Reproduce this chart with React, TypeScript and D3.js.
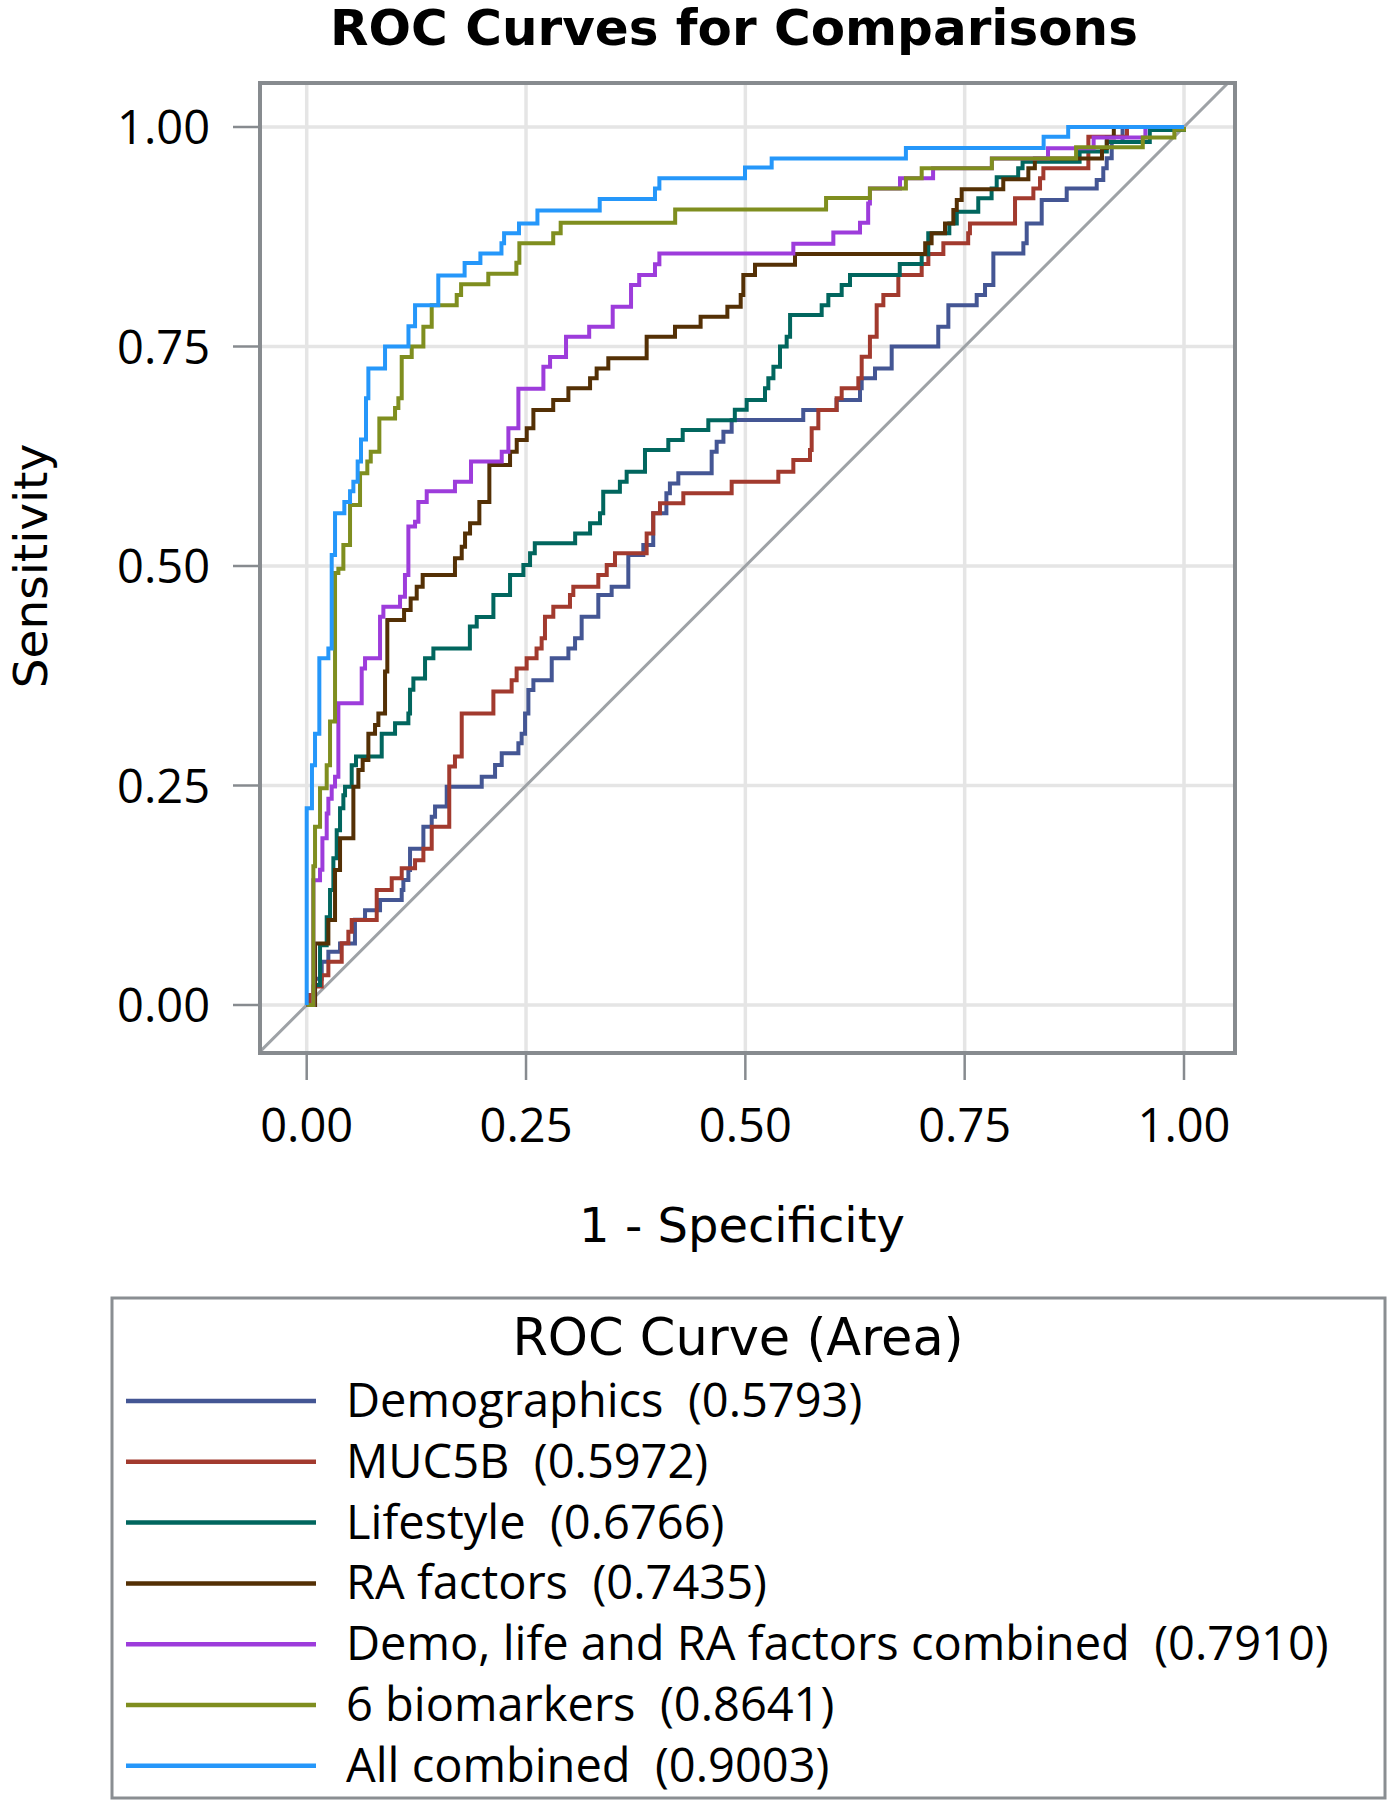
import React, { useEffect } from "react";
import * as d3 from "d3";

type Pt = [number, number];

const seriesNames = [
  "Demographics",
  "MUC5B",
  "Lifestyle",
  "RA factors",
  "Demo, life and RA factors combined",
  "6 biomarkers",
  "All combined",
];
const seriesAreas = ["0.5793", "0.5972", "0.6766", "0.7435", "0.7910", "0.8641", "0.9003"];
const axisTicks = [0, 0.25, 0.5, 0.75, 1];

// ROC step-curve corners: [1 - specificity, sensitivity]
const demographics: Pt[] = [
  [0, 0], [0.0095, 0.03], [0.0171, 0.0494], [0.0247, 0.0607], [0.038, 0.07], [0.055, 0.097],
  [0.0665, 0.108], [0.0836, 0.1196], [0.1083, 0.131], [0.1102, 0.1424], [0.1159, 0.1538],
  [0.1178, 0.178], [0.133, 0.203], [0.1425, 0.2145], [0.1463, 0.226], [0.1596, 0.2487],
  [0.1995, 0.26], [0.2147, 0.2733], [0.2223, 0.2866], [0.2413, 0.298], [0.245, 0.309],
  [0.2489, 0.332], [0.2527, 0.3588], [0.2584, 0.37], [0.2793, 0.3948], [0.2983, 0.406],
  [0.3059, 0.4176], [0.3134, 0.4423], [0.3324, 0.467], [0.3476, 0.4765], [0.3666, 0.5125],
  [0.3837, 0.524], [0.395, 0.56], [0.41, 0.5828], [0.414, 0.594], [0.4236, 0.6055],
  [0.4616, 0.63], [0.4673, 0.6416], [0.475, 0.653], [0.4844, 0.6663], [0.566, 0.6777],
  [0.604, 0.689], [0.6307, 0.7024], [0.6326, 0.7137], [0.6478, 0.725], [0.6668, 0.75],
  [0.7199, 0.7726], [0.7314, 0.797], [0.7637, 0.8087], [0.7732, 0.82], [0.7827, 0.856],
  [0.8169, 0.8675], [0.8207, 0.89], [0.8378, 0.9169], [0.8663, 0.93], [0.9005, 0.9397],
  [0.908, 0.953], [0.9119, 0.9643], [0.9176, 0.983], [0.93, 1], [1, 1],
];
const muc5b: Pt[] = [
  [0, 0], [0.0038, 0.0114], [0.0076, 0.021], [0.0171, 0.034], [0.0247, 0.0494],
  [0.0399, 0.0702], [0.0475, 0.0835], [0.0513, 0.0968], [0.0798, 0.131], [0.0969, 0.1443],
  [0.1083, 0.1557], [0.1235, 0.165], [0.133, 0.178], [0.1425, 0.203], [0.1625, 0.2715],
  [0.169, 0.283], [0.1767, 0.332], [0.2128, 0.357], [0.2336, 0.37], [0.2393, 0.3834],
  [0.2507, 0.395], [0.262, 0.406], [0.2678, 0.4176], [0.2716, 0.4423], [0.2811, 0.4537],
  [0.3001, 0.467], [0.3039, 0.4765], [0.3324, 0.4897], [0.342, 0.501], [0.3514, 0.5144],
  [0.3875, 0.537], [0.395, 0.56], [0.4027, 0.5714], [0.4293, 0.5828], [0.4844, 0.596],
  [0.5376, 0.6074], [0.5547, 0.6207], [0.5737, 0.632], [0.5756, 0.6568], [0.5832, 0.6777],
  [0.604, 0.691], [0.6098, 0.7024], [0.6288, 0.7137], [0.6326, 0.7384], [0.642, 0.761],
  [0.6497, 0.797], [0.6573, 0.8087], [0.6744, 0.8314], [0.701, 0.844], [0.7086, 0.8554],
  [0.7257, 0.8675], [0.754, 0.879], [0.756, 0.89], [0.8074, 0.9188], [0.8283, 0.93],
  [0.8359, 0.9415], [0.8397, 0.953], [0.891, 0.989], [0.935, 1], [1, 1],
];
const lifestyle: Pt[] = [
  [0, 0], [0.0095, 0.0228], [0.0152, 0.068], [0.0228, 0.1], [0.0266, 0.131], [0.0304, 0.167],
  [0.0342, 0.199], [0.038, 0.224], [0.0418, 0.239], [0.0437, 0.2487], [0.0513, 0.273],
  [0.0562, 0.283], [0.0855, 0.309], [0.1007, 0.321], [0.1159, 0.332], [0.1178, 0.359],
  [0.1216, 0.372], [0.1349, 0.395], [0.1444, 0.406], [0.186, 0.431], [0.1938, 0.442],
  [0.2128, 0.467], [0.2318, 0.4897], [0.247, 0.501], [0.2546, 0.5144], [0.26, 0.526],
  [0.306, 0.537], [0.323, 0.5486], [0.3343, 0.56], [0.338, 0.5847], [0.357, 0.596],
  [0.3647, 0.6074], [0.3856, 0.632], [0.4122, 0.6435], [0.4286, 0.655], [0.4578, 0.666],
  [0.488, 0.678], [0.5015, 0.689], [0.5224, 0.7024], [0.5262, 0.7137], [0.532, 0.727],
  [0.5395, 0.75], [0.5471, 0.761], [0.551, 0.786], [0.587, 0.797], [0.5946, 0.8087],
  [0.6098, 0.82], [0.6193, 0.8314], [0.676, 0.844], [0.701, 0.855], [0.7085, 0.879],
  [0.7325, 0.89], [0.741, 0.9036], [0.7655, 0.9188], [0.7807, 0.93], [0.7865, 0.9427],
  [0.811, 0.953], [0.816, 0.9605], [0.881, 0.972], [0.912, 0.983], [0.961, 0.9966], [1, 1],
];
const raFactors: Pt[] = [
  [0, 0], [0.0095, 0.07], [0.0247, 0.0968], [0.0323, 0.1538], [0.038, 0.19], [0.0532, 0.2487],
  [0.0589, 0.2677], [0.0638, 0.279], [0.0703, 0.309], [0.0779, 0.319], [0.0817, 0.332],
  [0.0893, 0.3797], [0.0919, 0.4385], [0.111, 0.45], [0.1185, 0.463], [0.1254, 0.4765],
  [0.1322, 0.4897], [0.169, 0.5087], [0.1767, 0.522], [0.1805, 0.537], [0.1862, 0.5486],
  [0.1968, 0.573], [0.2082, 0.615], [0.2318, 0.63], [0.2394, 0.6435], [0.2508, 0.657],
  [0.2584, 0.6777], [0.281, 0.689], [0.2983, 0.7024], [0.323, 0.7137], [0.3305, 0.725],
  [0.3438, 0.7365], [0.3875, 0.761], [0.4198, 0.7726], [0.449, 0.784], [0.4795, 0.7954],
  [0.4947, 0.8087], [0.4977, 0.8314], [0.511, 0.843], [0.5566, 0.8554], [0.705, 0.8675],
  [0.7123, 0.879], [0.7276, 0.89], [0.7371, 0.9055], [0.741, 0.9169], [0.7466, 0.929],
  [0.794, 0.9404], [0.8226, 0.953], [0.83, 0.964], [0.9065, 0.976], [0.912, 0.988],
  [0.92, 1], [1, 1],
];
const demoLifeRA: Pt[] = [
  [0, 0], [0.0076, 0.142], [0.0152, 0.154], [0.0179, 0.19], [0.0228, 0.218], [0.0247, 0.235],
  [0.0285, 0.249], [0.0323, 0.26], [0.0361, 0.3436], [0.0627, 0.3834], [0.0665, 0.3948],
  [0.0836, 0.4423], [0.0874, 0.4537], [0.1064, 0.465], [0.112, 0.4897], [0.1159, 0.545],
  [0.1235, 0.5505], [0.1273, 0.573], [0.1368, 0.585], [0.169, 0.596], [0.1873, 0.619],
  [0.2223, 0.63], [0.2299, 0.657], [0.2413, 0.702], [0.2698, 0.727], [0.2774, 0.738],
  [0.2956, 0.761], [0.322, 0.7726], [0.3488, 0.7954], [0.3697, 0.82], [0.379, 0.8314],
  [0.397, 0.8436], [0.402, 0.856], [0.5547, 0.867], [0.6003, 0.8797], [0.6307, 0.891],
  [0.64, 0.913], [0.642, 0.93], [0.6763, 0.9415], [0.714, 0.953], [0.781, 0.964],
  [0.845, 0.9757], [0.897, 0.988], [0.956, 1], [1, 1],
];
const biomarkers6: Pt[] = [
  [0, 0], [0.0076, 0.158], [0.0095, 0.203], [0.0152, 0.247], [0.0228, 0.273], [0.0266, 0.323],
  [0.0323, 0.492], [0.0361, 0.497], [0.0418, 0.524], [0.0494, 0.5695], [0.0608, 0.6055],
  [0.0691, 0.619], [0.073, 0.63], [0.0828, 0.668], [0.1007, 0.68], [0.1045, 0.691],
  [0.1083, 0.738], [0.1197, 0.75], [0.133, 0.7726], [0.1425, 0.797], [0.171, 0.8087],
  [0.176, 0.8208], [0.207, 0.833], [0.239, 0.8455], [0.2424, 0.8675], [0.281, 0.879],
  [0.2895, 0.891], [0.42, 0.906], [0.592, 0.919], [0.642, 0.93], [0.683, 0.9415],
  [0.701, 0.953], [0.781, 0.964], [0.877, 0.9768], [0.953, 0.988], [0.989, 0.997], [1, 1],
];
const allCombined: Pt[] = [
  [0, 0], [0, 0.224], [0.006, 0.273], [0.0095, 0.309], [0.0144, 0.395], [0.0247, 0.406],
  [0.0285, 0.5125], [0.0323, 0.56], [0.0429, 0.573], [0.0494, 0.585], [0.0532, 0.596],
  [0.0581, 0.619], [0.0619, 0.644], [0.0676, 0.691], [0.0703, 0.725], [0.0893, 0.75],
  [0.116, 0.773], [0.1235, 0.797], [0.15, 0.831], [0.18, 0.845], [0.198, 0.856],
  [0.222, 0.8675], [0.225, 0.879], [0.242, 0.89], [0.263, 0.905], [0.334, 0.918],
  [0.397, 0.93], [0.402, 0.9416], [0.4996, 0.954], [0.53, 0.964], [0.683, 0.976],
  [0.84, 0.989], [0.868, 1], [1, 1],
];

const seriesData: Pt[][] = [demographics, muc5b, lifestyle, raFactors, demoLifeRA, biomarkers6, allCombined];
const seriesColors = ["#445694", "#A23A2E", "#01665E", "#543005", "#9D3CDB", "#7F8E1F", "#2597FA"];

const FONT = "'Open Sans', 'Noto Sans', sans-serif";
const WIDE_FONT = "'DejaVu Sans', 'Open Sans', sans-serif";

export default function App() {
  useEffect(() => {
    document.body.style.margin = "0";
  }, []);

  const W = 1387;
  const H = 1800;
  const frame = { x0: 260, x1: 1235, y0: 83, y1: 1053 };
  const x = d3.scaleLinear().domain([0, 1]).range([306.7, 1184]);
  const y = d3.scaleLinear().domain([0, 1]).range([1005, 127]);
  const line = d3
    .line<Pt>()
    .x((d) => x(d[0]))
    .y((d) => y(d[1]))
    .curve(d3.curveStepAfter);
  const diag = d3
    .line<Pt>()
    .x((d) => x(d[0]))
    .y((d) => y(d[1]));

  const fmt = d3.format(".2f");
  const legendTop = 1298;
  const legendRowY = (i: number) => 1401 + i * 60.8;

  return (
    <svg width={W} height={H} style={{ display: "block", background: "#fff" }} fontFamily={FONT}>
      <defs>
        <clipPath id="plotClip">
          <rect x={frame.x0} y={frame.y0} width={frame.x1 - frame.x0} height={frame.y1 - frame.y0} />
        </clipPath>
      </defs>
      <text x={734} y={45} textAnchor="middle" fontSize={50} fontWeight="bold" fill="#000" fontFamily={WIDE_FONT}>
        ROC Curves for Comparisons
      </text>

      {/* grid */}
      {axisTicks.map((t) => (
        <g key={"g" + t}>
          <line x1={x(t)} x2={x(t)} y1={frame.y0} y2={frame.y1} stroke="#e5e5e5" strokeWidth={3.5} />
          <line x1={frame.x0} x2={frame.x1} y1={y(t)} y2={y(t)} stroke="#e5e5e5" strokeWidth={3.5} />
        </g>
      ))}

      {/* diagonal */}
      <path
        d={diag([[-0.1, -0.1], [1.1, 1.1]]) || ""}
        stroke="#9ea2a6"
        strokeWidth={3}
        fill="none"
        clipPath="url(#plotClip)"
      />

      {/* curves */}
      <g clipPath="url(#plotClip)">
        {seriesData.map((s, i) => (
          <path key={seriesNames[i]} d={line(s) || ""} fill="none" stroke={seriesColors[i]} strokeWidth={4} />
        ))}
      </g>

      {/* frame */}
      <rect
        x={frame.x0}
        y={frame.y0}
        width={frame.x1 - frame.x0}
        height={frame.y1 - frame.y0}
        fill="none"
        stroke="#878b8f"
        strokeWidth={4}
      />

      {/* x axis */}
      {axisTicks.map((t) => (
        <g key={"x" + t}>
          <line x1={x(t)} x2={x(t)} y1={frame.y1} y2={frame.y1 + 27} stroke="#878b8f" strokeWidth={2.5} />
          <text x={x(t)} y={1142} textAnchor="middle" fontSize={47} fill="#000">
            {fmt(t)}
          </text>
        </g>
      ))}
      <text x={742} y={1242} textAnchor="middle" fontSize={48} fill="#000" fontFamily={WIDE_FONT}>
        1 - Specificity
      </text>

      {/* y axis */}
      {axisTicks.map((t) => (
        <g key={"y" + t}>
          <line x1={frame.x0} x2={frame.x0 - 27} y1={y(t)} y2={y(t)} stroke="#878b8f" strokeWidth={2.5} />
          <text x={210} y={y(t) + 17} textAnchor="end" fontSize={47} fill="#000">
            {fmt(t)}
          </text>
        </g>
      ))}
      <text
        transform={`translate(47, ${(y(0) + y(1)) / 2}) rotate(-90)`}
        textAnchor="middle"
        fontSize={47}
        fill="#000"
        fontFamily={WIDE_FONT}
      >
        Sensitivity
      </text>

      {/* legend */}
      <rect x={112} y={legendTop} width={1273} height={500} fill="#fff" stroke="#8a8e92" strokeWidth={3} />
      <text x={738} y={1355} textAnchor="middle" fontSize={51} fill="#000" fontFamily={WIDE_FONT}>
        ROC Curve (Area)
      </text>
      {seriesNames.map((name, i) => (
        <g key={"l" + name}>
          <line x1={126} x2={316} y1={legendRowY(i)} y2={legendRowY(i)} stroke={seriesColors[i]} strokeWidth={4.5} />
          <text x={346} y={legendRowY(i) + 16} fontSize={47} fill="#000" style={{ whiteSpace: "pre" }}>
            {`${name}  (${seriesAreas[i]})`}
          </text>
        </g>
      ))}
    </svg>
  );
}
